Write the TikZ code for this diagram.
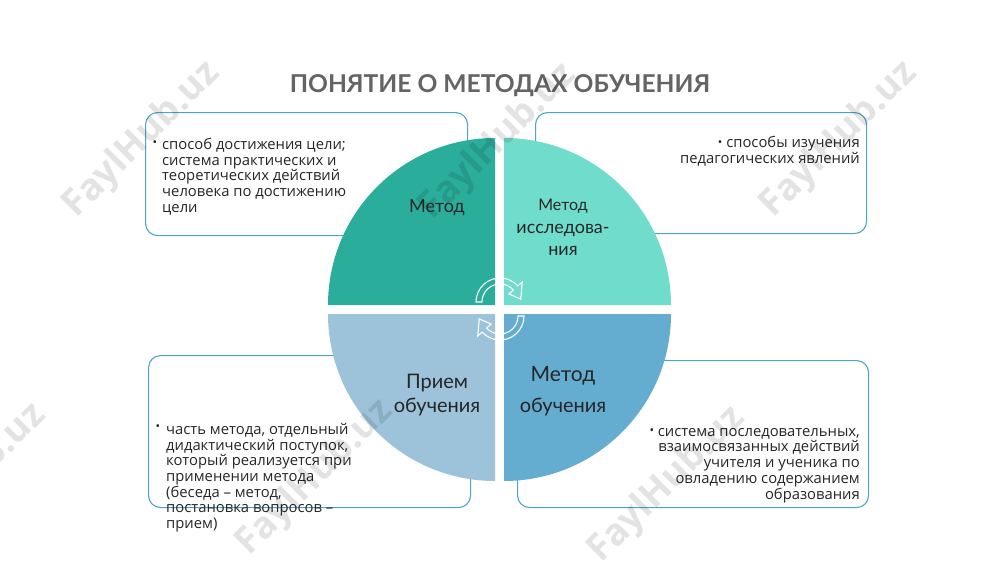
\documentclass[tikz,border=0pt]{standalone}
\usepackage{fontspec}
\setmainfont{Open Sans}
\newfontfamily\latofont{Lato}
\usetikzlibrary{calc}
\definecolor{qtl}{RGB}{43,173,155}
\definecolor{qtr}{RGB}{112,221,204}
\definecolor{qbl}{RGB}{157,195,218}
\definecolor{qbr}{RGB}{100,173,208}
\definecolor{boxblue}{RGB}{78,165,200}
\definecolor{txt}{RGB}{38,38,38}
\definecolor{ttl}{RGB}{100,100,100}
\tikzset{
  infobox/.style={draw=boxblue, line width=1.1pt, rounded corners=12pt, fill=white, inner sep=0pt, anchor=north west},
  bodytext/.style={font=\fontsize{14.8}{15.7}\selectfont, text=txt, inner sep=0pt},
  bul/.style={font=\fontsize{12}{12}\selectfont, text=txt, inner sep=0pt},
  qlabel/.style={text=txt, inner sep=0pt, align=center},
  cyclearrow/.style={draw=white, line width=1.1pt},
  wmark/.style={font=\fontsize{37}{37}\selectfont\bfseries, text=black, opacity=0.11, rotate=45, inner sep=0pt}
}
\newcommand{\inlinebul}{{\fontsize{12}{12}\selectfont\raisebox{1.5pt}{•}}}
\begin{document}
\begin{tikzpicture}[x=1pt,y=-1pt]
\useasboundingbox[fill=white] (0,0) rectangle (1000,562);

% title
\node[font=\latofont\fontsize{24.6}{24.6}\selectfont\bfseries, text=ttl, inner sep=0pt] (title) at (500,86) {ПОНЯТИЕ О МЕТОДАХ ОБУЧЕНИЯ};

% boxes
\node[infobox, minimum width=322pt, minimum height=123pt] (boxtl) at (145,112) {};
\node[infobox, minimum width=331pt, minimum height=121pt] (boxtr) at (535,112) {};
\node[infobox, minimum width=322pt, minimum height=152pt] (boxbl) at (148,355) {};
\node[infobox, minimum width=351pt, minimum height=147pt] (boxbr) at (517,360) {};

% quadrants
\fill[qtl] (495,305) -- ++(-167,0) arc[start angle=180,end angle=270,radius=167] -- cycle;
\fill[qtr] (504,305) -- ++(0,-167) arc[start angle=270,end angle=360,radius=167] -- cycle;
\fill[qbr] (504,314) -- ++(167,0) arc[start angle=0,end angle=90,radius=167] -- cycle;
\fill[qbl] (495,314) -- ++(0,167) arc[start angle=90,end angle=180,radius=167] -- cycle;

% cycle arrows
\coordinate (T) at (500,302);
\coordinate (B) at (500,316);
\draw[cyclearrow] ($(T)+(180:18)$) arc[start angle=180,end angle=318,radius=18]
  -- ($(T)+(318:12)$) -- ($(T)+(352:21)$) -- ($(T)+(318:30)$) -- ($(T)+(318:24)$)
  arc[start angle=318,end angle=180,radius=24] -- cycle;
\draw[cyclearrow] ($(B)+(0:18)$) arc[start angle=0,end angle=138,radius=18]
  -- ($(B)+(138:12)$) -- ($(B)+(172:21)$) -- ($(B)+(138:30)$) -- ($(B)+(138:24)$)
  arc[start angle=138,end angle=0,radius=24] -- cycle;

% quadrant labels
\node[qlabel, font=\latofont\fontsize{18}{18}\selectfont] (ltl) at (437,208) {Метод};
\node[qlabel, font=\latofont\fontsize{16}{16}\selectfont] (ltra) at (563,206) {Метод};
\node[qlabel, font=\latofont\fontsize{18}{18}\selectfont] (ltrb) at (563,230) {исследова-};
\node[qlabel, font=\latofont\fontsize{18}{18}\selectfont] (ltrc) at (563,251) {ния};
\node[qlabel, font=\latofont\fontsize{20}{20}\selectfont] (lbla) at (437,383) {Прием};
\node[qlabel, font=\latofont\fontsize{20}{20}\selectfont] (lblb) at (437,407) {обучения};
\node[qlabel, font=\latofont\fontsize{21}{21}\selectfont] (lbra) at (563,376) {Метод};
\node[qlabel, font=\latofont\fontsize{20}{20}\selectfont] (lbrb) at (563,407) {обучения};

% box texts
\node[bul] (btl) at (155,144) {•};
\node[bodytext, anchor=north west, align=left] (ttl) at (162,138) {способ достижения цели;\\система практических и\\теоретических действий\\человека по достижению\\цели};
\node[bodytext, anchor=north east, align=right] (ttr) at (860,136) {\inlinebul\ способы изучения\\педагогических явлений};
\node[bul] (bbl) at (158,428) {•};
\node[bodytext, anchor=north west, align=left] (tbl) at (166,423) {часть метода, отдельный\\дидактический поступок,\\который реализуется при\\применении метода\\(беседа – метод,\\постановка вопросов –\\прием)};
\node[bodytext, anchor=north east, align=right] (tbr) at (860,428) {\inlinebul\ система последовательных,\\взаимосвязанных действий\\учителя и ученика по\\овладению содержанием\\образования};

% watermarks
\node[wmark] (w1) at (142,140) {FaylHub.uz};
\node[wmark] (w2) at (498,142) {FaylHub.uz};
\node[wmark] (w3) at (839,140) {FaylHub.uz};
\node[wmark] (w4) at (-32,482) {FaylHub.uz};
\node[wmark] (w5) at (315,478) {FaylHub.uz};
\node[wmark] (w6) at (667,485) {FaylHub.uz};
\end{tikzpicture}
\end{document}
